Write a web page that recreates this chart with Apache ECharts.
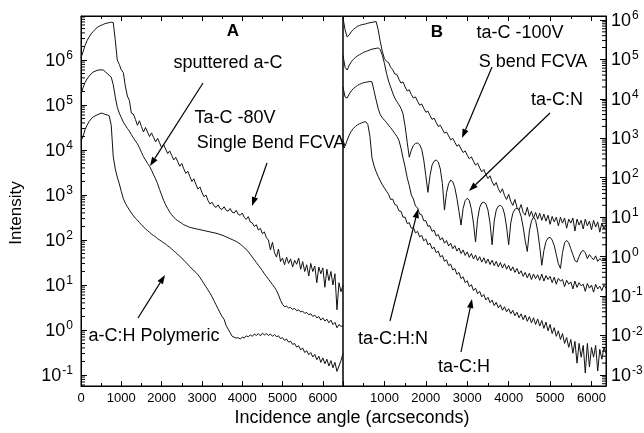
<!DOCTYPE html>
<html><head><meta charset="utf-8">
<script src="https://cdn.jsdelivr.net/npm/echarts@6/dist/echarts.min.js"></script>
<style>html,body{margin:0;padding:0;background:#fff}#c{width:644px;height:433px}</style>
</head><body><div id="c"></div>
<script>
// Incidence angle grids (arcseconds)
const anglesA = [0,50,100,150,200,250,300,350,400,450,500,550,600,650,700,750,800,850,900,950,
1000,1050,1100,1150,1200,1250,1300,1350,1400,1450,1500,1550,1600,1650,1700,1750,1800,1850,1900,1950,
2000,2050,2100,2150,2200,2250,2300,2350,2400,2450,2500,2550,2600,2650,2700,2750,2800,2850,2900,2950,
3000,3050,3100,3150,3200,3250,3300,3350,3400,3450,3500,3550,3600,3650,3700,3750,3800,3850,3900,3950,
4000,4050,4100,4150,4200,4250,4300,4350,4400,4450,4500,4550,4600,4650,4700,4750,4800,4850,4900,4950,
5000,5050,5100,5150,5200,5250,5300,5350,5400,5450,5500,5550,5600,5650,5700,5750,5800,5850,5900,5950,
6000,6050,6100,6150,6200,6250,6300,6350,6400,6450,6500];
const anglesB = [0,50,100,150,200,250,300,350,400,450,500,550,600,650,700,750,800,850,900,950,
1000,1050,1100,1150,1200,1250,1300,1350,1400,1450,1500,1550,1600,1650,1700,1750,1800,1850,1900,1950,
2000,2050,2100,2150,2200,2250,2300,2350,2400,2450,2500,2550,2600,2650,2700,2750,2800,2850,2900,2950,
3000,3050,3100,3150,3200,3250,3300,3350,3400,3450,3500,3550,3600,3650,3700,3750,3800,3850,3900,3950,
4000,4050,4100,4150,4200,4250,4300,4350,4400,4450,4500,4550,4600,4650,4700,4750,4800,4850,4900,4950,
5000,5050,5100,5150,5200,5250,5300,5350,5400,5450,5500,5550,5600,5650,5700,5750,5800,5850,5900,5950,
6000,6050,6100,6150,6200,6250,6300,6350];

// log10(Intensity), panel A
const logTaC80V = [6.05,6.18,6.32,6.43,6.51,6.58,6.63,6.68,6.72,6.75,
6.77,6.79,6.81,6.82,6.83,6.84,6.83,6.45,6.0,5.9,
5.78,5.72,5.42,5.2,5.1,4.82,4.80,4.68,4.55,4.65,
4.52,4.40,4.50,4.40,4.30,4.38,4.28,4.18,4.26,4.16,
4.05,4.12,4.02,3.92,3.98,3.88,3.78,3.84,3.74,3.64,
3.70,3.58,3.48,3.53,3.41,3.30,3.36,3.24,3.13,3.18,
3.06,2.96,3.00,2.88,2.80,2.84,2.76,2.72,2.78,2.70,
2.68,2.74,2.66,2.64,2.70,2.62,2.60,2.66,2.57,2.55,
2.60,2.50,2.46,2.52,2.40,2.38,2.30,2.34,2.22,2.26,
2.14,2.18,2.05,2.00,1.78,1.95,1.72,1.62,1.80,1.52,
1.60,1.45,1.62,1.48,1.58,1.40,1.55,1.46,1.60,1.35,
1.52,1.30,1.45,1.20,1.48,1.30,1.42,1.05,1.40,1.25,
1.38,0.95,1.35,1.10,1.30,1.00,1.25,0.45,1.05,0.85,1.00];
const logSputtered = [5.25,5.38,5.50,5.58,5.64,5.69,5.73,5.75,5.77,5.78,
5.78,5.78,5.74,5.70,5.66,5.62,5.45,5.18,4.95,4.82,
4.72,4.62,4.55,4.48,4.42,4.34,4.27,4.20,4.14,4.05,
3.95,3.85,3.78,3.70,3.64,3.55,3.45,3.36,3.25,3.12,
3.00,2.88,2.78,2.70,2.62,2.56,2.51,2.46,2.43,2.40,
2.37,2.34,2.32,2.30,2.28,2.27,2.26,2.25,2.24,2.23,
2.22,2.21,2.20,2.19,2.18,2.17,2.16,2.15,2.14,2.12,
2.11,2.09,2.07,2.05,2.03,2.01,1.99,1.97,1.94,1.91,
1.87,1.83,1.79,1.74,1.68,1.62,1.56,1.50,1.44,1.38,
1.32,1.25,1.19,1.13,1.07,1.01,0.95,0.88,0.78,0.66,
0.57,0.52,0.53,0.49,0.50,0.46,0.48,0.43,0.45,0.40,
0.42,0.37,0.39,0.34,0.36,0.30,0.33,0.27,0.30,0.22,
0.27,0.20,0.24,0.16,0.22,0.12,0.17,0.05,0.12,0.08,0.10];
const logPolymeric = [4.20,4.30,4.45,4.55,4.63,4.69,4.73,4.76,4.78,4.80,
4.82,4.81,4.79,4.78,4.76,4.55,3.85,3.58,3.40,3.25,
3.08,2.92,2.82,2.74,2.67,2.60,2.54,2.48,2.44,2.39,
2.34,2.29,2.25,2.21,2.17,2.13,2.10,2.07,2.03,2.00,
1.97,1.94,1.91,1.87,1.84,1.80,1.76,1.72,1.68,1.64,
1.60,1.55,1.50,1.46,1.41,1.36,1.32,1.28,1.23,1.17,
1.10,1.03,0.96,0.89,0.82,0.74,0.65,0.56,0.47,0.38,
0.30,0.24,0.10,0.02,-0.06,-0.14,-0.16,-0.18,-0.17,-0.20,
-0.16,-0.18,-0.13,-0.15,-0.11,-0.14,-0.09,-0.12,-0.08,-0.13,
-0.07,-0.11,-0.08,-0.12,-0.09,-0.14,-0.10,-0.15,-0.13,-0.19,
-0.17,-0.23,-0.20,-0.27,-0.25,-0.32,-0.30,-0.38,-0.35,-0.44,
-0.40,-0.50,-0.46,-0.55,-0.50,-0.60,-0.54,-0.66,-0.58,-0.72,
-0.62,-0.75,-0.65,-0.80,-0.68,-0.84,-0.72,-0.92,-0.80,-0.68,-0.52];

// log10(Intensity), panel B
const logTaC100V = [6.05,5.75,5.57,5.62,5.70,5.76,5.80,5.84,5.86,5.88,
5.89,5.90,5.92,5.93,5.94,5.95,5.96,5.75,5.45,5.20,
5.02,4.95,4.92,4.80,4.74,4.63,4.62,4.50,4.40,4.43,
4.30,4.20,4.23,4.11,4.02,4.05,3.94,3.84,3.87,3.76,
3.66,3.69,3.58,3.48,3.51,3.40,3.30,3.33,3.23,3.13,
3.16,3.06,2.96,3.00,2.90,2.80,2.84,2.73,2.64,2.68,
2.57,2.48,2.53,2.42,2.32,2.37,2.25,2.15,2.21,2.08,
1.98,2.05,1.90,1.80,1.88,1.72,1.62,1.72,1.55,1.45,
1.58,1.40,1.30,1.45,1.25,1.18,1.32,1.12,1.05,1.25,
1.02,1.15,0.98,1.12,0.95,1.10,0.92,1.08,0.90,1.05,
0.82,1.02,0.88,1.00,0.78,1.00,0.85,0.98,0.72,0.95,
0.85,0.98,0.65,0.95,0.80,0.92,0.70,0.95,0.78,0.90,
0.68,0.92,0.75,0.88,0.62,0.85,0.70,0.80];
const logTaCN = [5.10,4.80,4.73,4.85,4.94,5.00,5.05,5.09,5.12,5.15,
5.18,5.20,5.22,5.24,5.26,5.27,5.28,5.29,5.25,5.10,
4.90,4.65,4.45,4.30,4.15,4.02,3.93,3.85,3.76,3.62,
3.30,2.90,2.52,2.70,2.82,2.87,2.88,2.84,2.72,2.45,
2.05,1.63,2.05,2.32,2.42,2.45,2.40,2.22,1.85,1.18,
1.62,1.85,1.94,1.90,1.75,1.48,1.15,0.80,1.22,1.42,
1.48,1.42,1.20,0.85,0.37,0.95,1.25,1.36,1.38,1.34,
1.18,0.85,0.30,0.90,1.18,1.28,1.30,1.25,1.08,0.75,
0.30,0.85,1.10,1.20,1.23,1.18,1.02,0.75,0.40,0.13,
0.65,0.90,1.00,0.92,0.65,0.25,-0.22,0.15,0.38,0.47,
0.49,0.42,0.28,0.05,-0.18,-0.30,0.10,0.35,0.41,0.35,
0.20,0.05,-0.10,-0.14,0.00,0.12,0.16,0.10,-0.05,0.05,
-0.02,-0.08,0.02,-0.12,-0.05,-0.10,-0.06,-0.08];
const logTaCHN = [4.30,4.05,4.02,4.12,4.20,4.26,4.30,4.34,4.37,4.39,
4.41,4.42,4.43,4.44,4.43,4.20,3.97,3.75,3.60,3.52,
3.46,3.40,3.33,3.27,3.20,3.12,3.05,2.95,2.75,2.50,
2.27,2.00,1.80,1.56,1.46,1.28,1.24,1.08,1.06,0.91,
0.91,0.77,0.78,0.64,0.67,0.52,0.56,0.42,0.48,0.34,
0.41,0.27,0.34,0.20,0.28,0.14,0.22,0.08,0.17,0.03,
0.12,-0.02,0.08,-0.06,0.04,-0.10,0.00,-0.14,-0.03,-0.17,
-0.06,-0.20,-0.09,-0.23,-0.12,-0.26,-0.15,-0.29,-0.18,-0.32,
-0.22,-0.36,-0.26,-0.40,-0.30,-0.44,-0.36,-0.50,-0.40,-0.54,
-0.42,-0.58,-0.44,-0.56,-0.46,-0.60,-0.44,-0.62,-0.48,-0.58,
-0.50,-0.66,-0.52,-0.70,-0.55,-0.62,-0.58,-0.76,-0.60,-0.70,
-0.64,-0.82,-0.62,-0.78,-0.66,-0.74,-0.70,-0.88,-0.68,-0.80,
-0.72,-0.90,-0.70,-0.82,-0.75,-0.86,-0.72,-0.80];
const logTaCH = [2.95,2.80,2.95,3.08,3.18,3.25,3.30,3.34,3.37,3.39,
3.41,3.42,3.35,3.05,2.50,2.30,2.15,2.03,1.92,1.82,
1.74,1.66,1.58,1.45,1.46,1.32,1.30,1.16,1.15,1.00,
1.00,0.84,0.86,0.72,0.74,0.60,0.64,0.50,0.54,0.40,
0.45,0.30,0.34,0.20,0.24,0.10,0.14,-0.01,0.03,-0.12,
-0.08,-0.23,-0.19,-0.34,-0.30,-0.45,-0.40,-0.56,-0.51,-0.66,
-0.61,-0.76,-0.71,-0.86,-0.80,-0.94,-0.88,-1.02,-0.96,-1.10,
-1.03,-1.17,-1.10,-1.24,-1.16,-1.30,-1.22,-1.36,-1.27,-1.40,
-1.32,-1.45,-1.36,-1.50,-1.41,-1.55,-1.45,-1.60,-1.48,-1.64,
-1.52,-1.68,-1.55,-1.72,-1.58,-1.76,-1.62,-1.82,-1.66,-1.88,
-1.72,-1.95,-1.80,-2.02,-1.88,-2.10,-1.95,-2.20,-2.05,-2.30,
-2.10,-2.45,-2.15,-2.70,-2.20,-2.55,-2.25,-2.95,-2.20,-2.80,
-2.30,-2.55,-2.25,-2.90,-2.35,-2.60,-2.30,-2.45];

const xTickLabelsA = ['0','1000','2000','3000','4000','5000','6000'];
const xTickLabelsB = ['1000','2000','3000','4000','5000','6000'];

const FONT = '"Liberation Sans", Arial, Helvetica, sans-serif';
const A_MIN = 0.057, A_MAX = 9.5e6, B_MIN = 5.25e-4, B_MAX = 1.26e6;
const XA_MAX = 6500, XB_MAX = 6350;

function pairs(xs, logs){ return xs.map((x,i)=>[x, Math.pow(10, logs[i])]); }
function minorVals(lo, hi){ const out=[]; for(let d=-4; d<=7; d++){ for(let k=2;k<=9;k++){ const v=k*Math.pow(10,d); if(v>lo && v<hi) out.push(v);} } return out; }

function pow10Label(v){
  const e = Math.log10(v), r = Math.round(e);
  if (Math.abs(e-r) > 1e-4) return '';
  return '{b|10}{s|' + r + '}';
}
const rich = {
  b:{fontSize:18, fontFamily:FONT, color:'#000', lineHeight:20, verticalAlign:'bottom'},
  s:{fontSize:12, fontFamily:FONT, color:'#000', lineHeight:20, verticalAlign:'top', padding:[0,0,0,1]}
};

function xAxisCfg(grid, max, pos, labels, showMin){
  return {
    gridIndex:grid, type:'value', min:0, max:max, interval:1000, position:pos,
    axisLine:{show:true, onZero:false, lineStyle:{color:'#000', width:1}},
    axisTick:{show:true, inside:true, length:5, lineStyle:{color:'#000'}},
    minorTick:{show:true, splitNumber:2, length:3, lineStyle:{color:'#000'}},
    splitLine:{show:false},
    axisLabel:{show: pos==='bottom', color:'#000', fontSize:13, fontFamily:FONT, margin:6,
      showMinLabel: showMin, showMaxLabel:false,
      formatter: v => { const s = String(v); return labels.indexOf(s) >= 0 ? s : ''; }}
  };
}
function yAxisCfg(grid, min, max, pos, margin){
  return {gridIndex:grid, type:'log', logBase:10, min:min, max:max, splitNumber:10, position:pos,
    axisLine:{show:true, onZero:false, lineStyle:{color:'#000'}},
    axisTick:{show:true, inside:true, length:6, lineStyle:{color:'#000'}},
    splitLine:{show:false},
    axisLabel:{show:true, margin:margin, formatter:pow10Label, rich:rich, showMinLabel:false, showMaxLabel:false}};
}

const chart = echarts.init(document.getElementById('c'), null, {renderer:'canvas'});

const seriesStyle = {type:'line', showSymbol:false, symbol:'none', smooth:false, animation:false,
  lineStyle:{color:'#111', width:1}, silent:true};

function arrow(x1,y1,x2,y2){
  const a = Math.atan2(y2-y1, x2-x1), L=9, W=3.2;
  const bx = x2 - L*Math.cos(a), by = y2 - L*Math.sin(a);
  return [
    {type:'line', shape:{x1:x1,y1:y1,x2:bx,y2:by}, style:{stroke:'#000', lineWidth:1.2}, silent:true},
    {type:'polygon', shape:{points:[[x2,y2],[bx + W*Math.sin(a), by - W*Math.cos(a)],[bx - W*Math.sin(a), by + W*Math.cos(a)]]}, style:{fill:'#000'}, silent:true}
  ];
}
function txt(t, x, y, size, bold, align, rot){
  return {type:'text', x:x, y:y, rotation: rot||0, silent:true,
    style:{text:t, fontSize:size, fontFamily:FONT, fontWeight: bold?'bold':'normal', fill:'#000',
      align: align||'center', verticalAlign:'middle'}};
}

const graphics = [].concat(
  [txt('A', 233, 31, 17, true), txt('B', 437, 32, 17, true)],
  [txt('sputtered a-C', 228, 63, 18)], arrow(203, 83, 150, 166),
  [txt('Ta-C -80V', 235, 118, 18), txt('Single Bend FCVA', 271, 143, 18)], arrow(267, 163, 252, 206),
  [txt('a-C:H Polymeric', 154, 336, 18)], arrow(138, 318, 165, 275),
  [txt('ta-C -100V', 520, 33, 18), txt('S bend FCVA', 533, 62, 18)], arrow(492, 67, 462, 138),
  [txt('ta-C:N', 557, 100, 18)], arrow(550, 113, 469, 191),
  [txt('ta-C:H:N', 393, 339, 18)], arrow(390, 321, 418, 209),
  [txt('ta-C:H', 464, 367, 18)], arrow(461, 352, 472, 299),
  [txt('Intensity', 16, 213, 17, false, 'center', Math.PI/2)],
  [txt('Incidence angle (arcseconds)', 352, 418, 18)]
);

chart.setOption({
  animation:false,
  backgroundColor:'#fff',
  textStyle:{fontFamily:FONT},
  grid:[
    {left:81, top:16, width:262, height:370, outerBoundsMode:'none', containLabel:false, show:true, borderColor:'#000', borderWidth:1, backgroundColor:'transparent'},
    {left:343, top:16, width:263, height:370, outerBoundsMode:'none', containLabel:false, show:true, borderColor:'#000', borderWidth:1, backgroundColor:'transparent'}
  ],
  xAxis:[
    xAxisCfg(0, XA_MAX, 'bottom', xTickLabelsA, true),
    xAxisCfg(0, XA_MAX, 'top', xTickLabelsA, true),
    xAxisCfg(1, XB_MAX, 'bottom', xTickLabelsB, false),
    xAxisCfg(1, XB_MAX, 'top', xTickLabelsB, false)
  ],
  yAxis:[
    yAxisCfg(0, A_MIN, A_MAX, 'left', 8),
    yAxisCfg(1, B_MIN, B_MAX, 'right', 5)
  ],
  series:[
    Object.assign({}, seriesStyle, {name:'Ta-C -80V Single Bend FCVA', xAxisIndex:0, yAxisIndex:0, data:pairs(anglesA, logTaC80V)}),
    Object.assign({}, seriesStyle, {name:'sputtered a-C', xAxisIndex:0, yAxisIndex:0, data:pairs(anglesA, logSputtered)}),
    Object.assign({}, seriesStyle, {name:'a-C:H Polymeric', xAxisIndex:0, yAxisIndex:0, data:pairs(anglesA, logPolymeric)}),
    Object.assign({}, seriesStyle, {name:'ta-C -100V S bend FCVA', xAxisIndex:2, yAxisIndex:1, data:pairs(anglesB, logTaC100V)}),
    Object.assign({}, seriesStyle, {name:'ta-C:N', xAxisIndex:2, yAxisIndex:1, data:pairs(anglesB, logTaCN)}),
    Object.assign({}, seriesStyle, {name:'ta-C:H:N', xAxisIndex:2, yAxisIndex:1, data:pairs(anglesB, logTaCHN)}),
    Object.assign({}, seriesStyle, {name:'ta-C:H', xAxisIndex:2, yAxisIndex:1, data:pairs(anglesB, logTaCH)})
  ],
  graphic: graphics
});

// Minor log ticks on the y axes, positioned through the axes' own scales
const minorEls = [];
const xA0 = chart.convertToPixel({xAxisIndex:0}, 0);
const xB1 = chart.convertToPixel({xAxisIndex:2}, XB_MAX);
minorVals(A_MIN, A_MAX).forEach(v => {
  const y = chart.convertToPixel({yAxisIndex:0}, v);
  minorEls.push({type:'line', silent:true, shape:{x1:xA0, y1:y, x2:xA0+4, y2:y}, style:{stroke:'#000', lineWidth:1}});
});
minorVals(B_MIN, B_MAX).forEach(v => {
  const y = chart.convertToPixel({yAxisIndex:1}, v);
  minorEls.push({type:'line', silent:true, shape:{x1:xB1, y1:y, x2:xB1-4, y2:y}, style:{stroke:'#000', lineWidth:1}});
});
chart.setOption({graphic: graphics.concat(minorEls)});
</script>
</body></html>
